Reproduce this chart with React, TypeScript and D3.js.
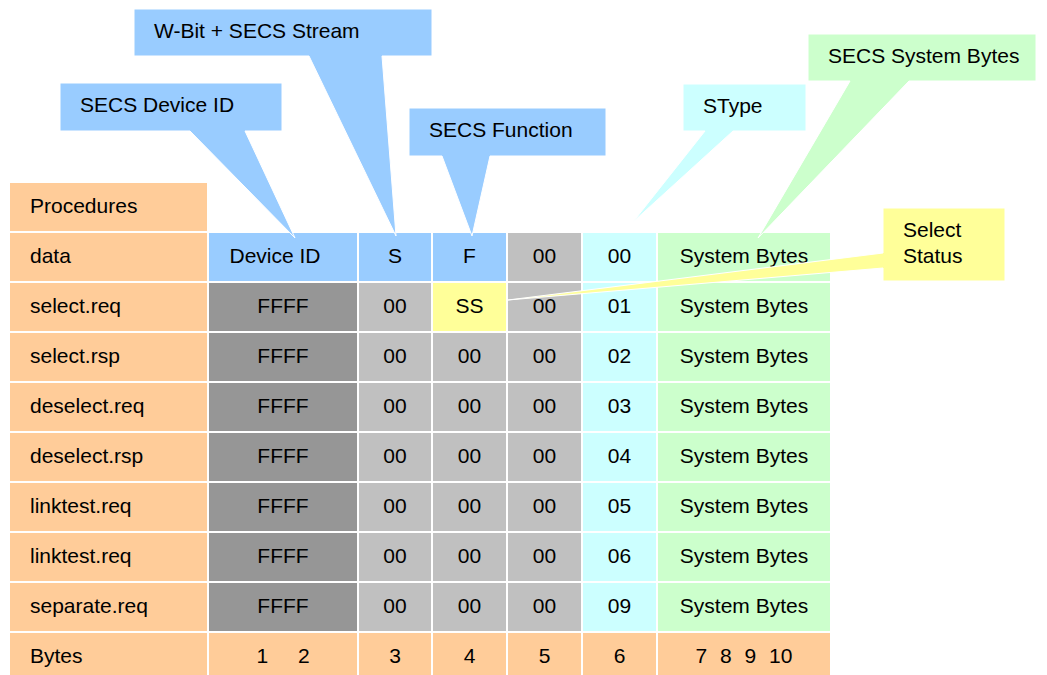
import React from "react";
import * as d3 from "d3";

// ---------- data ----------
const headerLabel = "Procedures";
const rowLabels = [
  "data",
  "select.req",
  "select.rsp",
  "deselect.req",
  "deselect.rsp",
  "linktest.req",
  "linktest.req",
  "separate.req",
  "Bytes",
];
const deviceIdCol = ["Device ID", "FFFF", "FFFF", "FFFF", "FFFF", "FFFF", "FFFF", "FFFF", "1 2"];
const streamCol = ["S", "00", "00", "00", "00", "00", "00", "00", "3"];
const functionCol = ["F", "SS", "00", "00", "00", "00", "00", "00", "4"];
const pTypeCol = ["00", "00", "00", "00", "00", "00", "00", "00", "5"];
const sTypeCol = ["00", "01", "02", "03", "04", "05", "06", "09", "6"];
const systemBytesCol = [
  "System Bytes",
  "System Bytes",
  "System Bytes",
  "System Bytes",
  "System Bytes",
  "System Bytes",
  "System Bytes",
  "System Bytes",
  "7 8 9 10",
];
const valueColumns = [deviceIdCol, streamCol, functionCol, pTypeCol, sTypeCol, systemBytesCol];

const calloutTexts = [
  ["W-Bit + SECS Stream"],
  ["SECS Device ID"],
  ["SECS Function"],
  ["SType"],
  ["SECS System Bytes"],
  ["Select", "Status"],
];

// ---------- styles / layout ----------
const C = {
  orange: "#FFCC99",
  blue: "#99CCFF",
  dark: "#969696",
  gray: "#C0C0C0",
  cyan: "#CCFFFF",
  green: "#CCFFCC",
  yellow: "#FFFF99",
};
const colWidths = [197, 148, 72, 73, 73, 73, 172];
const colGap = 2;
const tableLeft = 10;
const FONT = "'Liberation Sans', Arial, Helvetica, sans-serif";
const FS = 21;

const dataRowColors = [C.blue, C.blue, C.blue, C.gray, C.cyan, C.green];
const bodyRowColors = [C.dark, C.gray, C.gray, C.gray, C.cyan, C.green];
const dataRowTextShift = [-8, 0, 0, 0, 0, 0];
const bytesWordSpacing = [24, 0, 0, 0, 0, 7];

type Callout = {
  box: [number, number, number, number];
  base: [number, number];
  tip: [number, number];
  side: "bottom" | "left";
  fill: string;
};
const callouts: Callout[] = [
  { box: [134, 9, 432, 56], base: [309, 382], tip: [396, 236], side: "bottom", fill: C.blue },
  { box: [60, 83, 282, 131], base: [190, 245], tip: [295, 238], side: "bottom", fill: C.blue },
  { box: [409, 108, 606, 156], base: [442, 490], tip: [472, 236], side: "bottom", fill: C.blue },
  { box: [683, 84, 806, 131], base: [705, 733], tip: [633, 222], side: "bottom", fill: C.cyan },
  { box: [808, 34, 1036, 81], base: [850, 909], tip: [758, 238], side: "bottom", fill: C.green },
  { box: [883, 208, 1005, 281], base: [253, 268], tip: [508, 300], side: "left", fill: C.yellow },
];

function calloutPath(c: Callout): string {
  const [x0, y0, x1, y1] = c.box;
  const p = d3.path();
  p.moveTo(x0, y0);
  p.lineTo(x1, y0);
  p.lineTo(x1, y1);
  if (c.side === "bottom") {
    p.lineTo(c.base[1], y1);
    p.lineTo(c.tip[0], c.tip[1]);
    p.lineTo(c.base[0], y1);
    p.lineTo(x0, y1);
  } else {
    p.lineTo(x0, y1);
    p.lineTo(x0, c.base[1]);
    p.lineTo(c.tip[0], c.tip[1]);
    p.lineTo(x0, c.base[0]);
  }
  p.closePath();
  return p.toString();
}

export default function App() {
  const rowIdx = d3.range(rowLabels.length + 1); // 0 = header row
  const y = d3.scaleBand<number>().domain(rowIdx).range([183, 681]).paddingInner(0.04).paddingOuter(0);
  const colX = colWidths.map((w, i) => tableLeft + d3.sum(colWidths.slice(0, i)) + i * colGap);
  const bh = y.bandwidth();
  const baseline = (r: number) => (y(r) as number) + 29.5;

  const cells: React.ReactNode[] = [];
  cells.push(
    <g key="hdr">
      <rect x={colX[0]} y={y(0)} width={colWidths[0]} height={bh} fill={C.orange} />
      <text x={colX[0] + 20} y={baseline(0)} fontSize={FS}>
        {headerLabel}
      </text>
    </g>
  );
  rowLabels.forEach((lab, i) => {
    const r = i + 1;
    const isBytes = i === rowLabels.length - 1;
    cells.push(
      <g key={"l" + i}>
        <rect x={colX[0]} y={y(r)} width={colWidths[0]} height={bh} fill={C.orange} />
        <text x={colX[0] + 20} y={baseline(r)} fontSize={FS}>
          {lab}
        </text>
      </g>
    );
    valueColumns.forEach((col, j) => {
      const val = col[i];
      let fill: string;
      if (isBytes) fill = C.orange;
      else if (i === 0) fill = dataRowColors[j];
      else fill = bodyRowColors[j];
      if (val === "SS") fill = C.yellow;
      const cx = colX[j + 1] + colWidths[j + 1] / 2 + (i === 0 ? dataRowTextShift[j] : 0);
      cells.push(
        <g key={"c" + i + "_" + j}>
          <rect x={colX[j + 1]} y={y(r)} width={colWidths[j + 1]} height={bh} fill={fill} />
          <text
            x={cx}
            y={baseline(r)}
            fontSize={FS}
            textAnchor="middle"
            style={isBytes ? { wordSpacing: bytesWordSpacing[j] + "px" } : undefined}
          >
            {val}
          </text>
        </g>
      );
    });
  });

  return (
    <svg
      width={1047}
      height={675}
      style={{ position: "absolute", left: 0, top: 0, background: "#fff" }}
      fontFamily={FONT}
    >
      <rect x={0} y={0} width={1047} height={675} fill="#fff" />
      {cells}
      {callouts.map((c, k) => (
        <g key={"co" + k}>
          <path d={calloutPath(c)} fill={c.fill} stroke="#fff" strokeWidth={1} />
          {calloutTexts[k].map((t, li) => (
            <text key={li} x={c.box[0] + 20} y={c.box[1] + 29 + li * 26} fontSize={FS}>
              {t}
            </text>
          ))}
        </g>
      ))}
    </svg>
  );
}
